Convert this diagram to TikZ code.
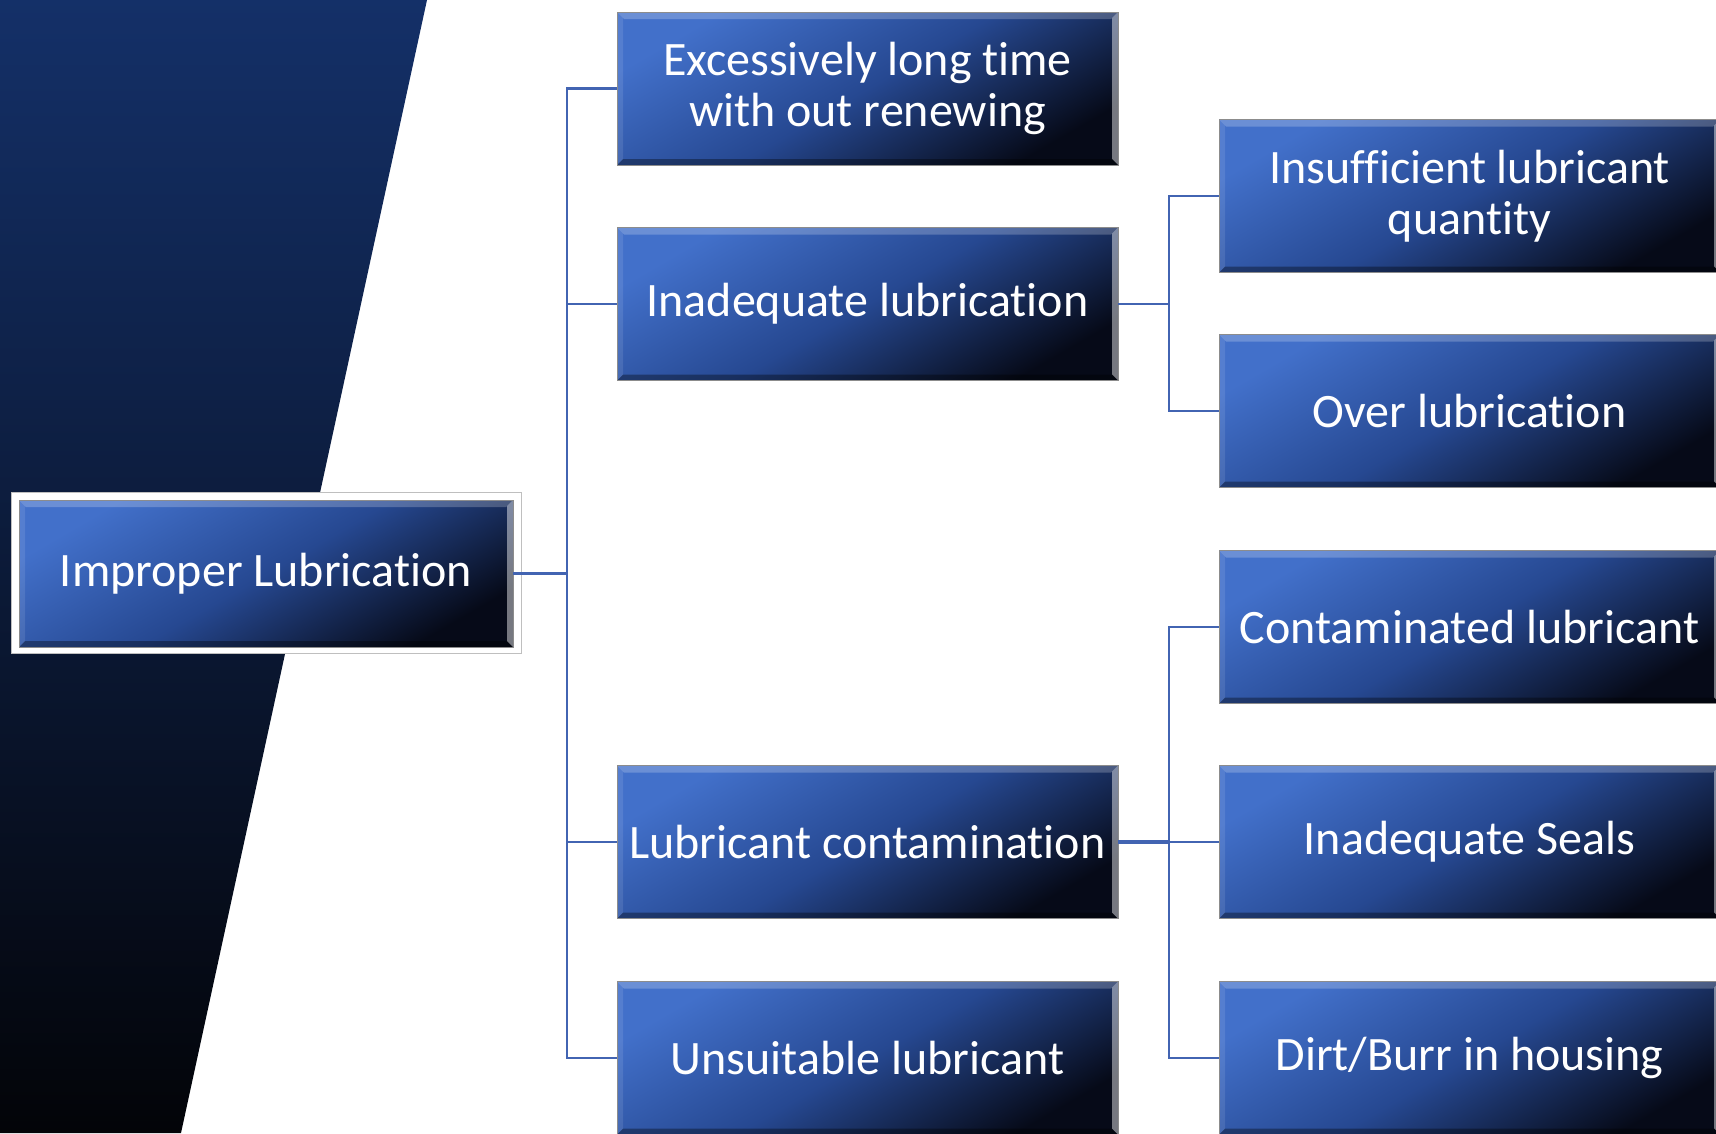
\documentclass[tikz,border=0pt]{standalone}
\usepackage{fontspec}
\setmainfont[Ligatures=NoCommon]{Carlito}
\usetikzlibrary{calc}
\definecolor{boxtop}{RGB}{66,112,202}
\definecolor{boxmid}{RGB}{38,72,145}
\definecolor{boxbot}{RGB}{6,10,24}
\definecolor{conncol}{RGB}{66,100,178}
\definecolor{paneltop}{RGB}{20,48,104}
\definecolor{panelmid}{RGB}{8,22,58}
\definecolor{panelbot}{RGB}{3,4,8}
\tikzset{
  causebox/.style={rectangle, inner sep=0pt, minimum width=501pt, minimum height=153pt,
    draw=black!45, line width=0.6pt,
    top color=boxtop, bottom color=boxbot, middle color=boxmid, shading angle=30,
    text=white, align=center, font=\fontsize{48}{50.5}\selectfont,
    path picture={
      \fill[white,opacity=0.22] (path picture bounding box.north west) -- (path picture bounding box.north east)
        -- ([shift={(-7pt,-7pt)}]path picture bounding box.north east) -- ([shift={(7pt,-7pt)}]path picture bounding box.north west) -- cycle;
      \fill[white,opacity=0.45] (path picture bounding box.north east) -- (path picture bounding box.south east)
        -- ([shift={(-6pt,6pt)}]path picture bounding box.south east) -- ([shift={(-6pt,-6pt)}]path picture bounding box.north east) -- cycle;
      \fill[black,opacity=0.35] (path picture bounding box.south west) -- (path picture bounding box.south east)
        -- ([shift={(-6pt,6pt)}]path picture bounding box.south east) -- ([shift={(6pt,6pt)}]path picture bounding box.south west) -- cycle;
      \fill[white,opacity=0.10] (path picture bounding box.north west) -- (path picture bounding box.south west)
        -- ([shift={(6pt,6pt)}]path picture bounding box.south west) -- ([shift={(6pt,-6pt)}]path picture bounding box.north west) -- cycle;
    }},
  conn/.style={draw=conncol, line width=2.8pt},
  framebox/.style={draw=black!25, line width=0.8pt, fill=white}
}
\begin{document}
\begin{tikzpicture}[x=1pt,y=-1pt]
\useasboundingbox (0,0) rectangle (1716,1133);
\clip (0,0) rectangle (1716,1133);
\fill[white] (0,0) rectangle (1716,1133);
% dark side panel
\shade[top color=paneltop, middle color=panelmid, bottom color=panelbot]
  (0,0) -- (427,0) -- (181,1133) -- (0,1133) -- cycle;
% root frame
\draw[framebox] (11,492) rectangle (521,653);
\node[causebox, minimum width=494pt, minimum height=147pt] (root) at (266,573.5) {Improper Lubrication};
% middle column
\node[causebox] (m1) at (867.5,88.5) {Excessively long time\\with out renewing};
\node[causebox] (m2) at (867.5,304) {Inadequate lubrication};
\node[causebox] (m3) at (867.5,842) {Lubricant contamination};
\node[causebox] (m4) at (867.5,1058) {Unsuitable lubricant};
% right column
\node[causebox] (r1) at (1469.5,196) {Insufficient lubricant\\quantity};
\node[causebox] (r2) at (1469.5,411) {Over lubrication};
\node[causebox] (r3) at (1469.5,627) {Contaminated lubricant};
\node[causebox] (r4) at (1469.5,842) {Inadequate Seals};
\node[causebox] (r5) at (1469.5,1058) {Dirt/Burr in housing};
% junctions
\coordinate (j1) at (567,573.5);
\coordinate (j2) at (1169,304);
\coordinate (j3) at (1169,842);
% connectors
\draw[conn] (root.east) -- (j1);
\draw[conn] (j1) |- (m1.west);
\draw[conn] (j1) |- (m2.west);
\draw[conn] (j1) |- (m3.west);
\draw[conn] (j1) |- (m4.west);
\draw[conn] (m2.east) -- (j2);
\draw[conn] (j2) |- (r1.west);
\draw[conn] (j2) |- (r2.west);
\draw[conn, line width=4pt] (m3.east) -- (j3);
\draw[conn] (j3) |- (r3.west);
\draw[conn] (j3) |- (r4.west);
\draw[conn] (j3) |- (r5.west);
\end{tikzpicture}
\end{document}
